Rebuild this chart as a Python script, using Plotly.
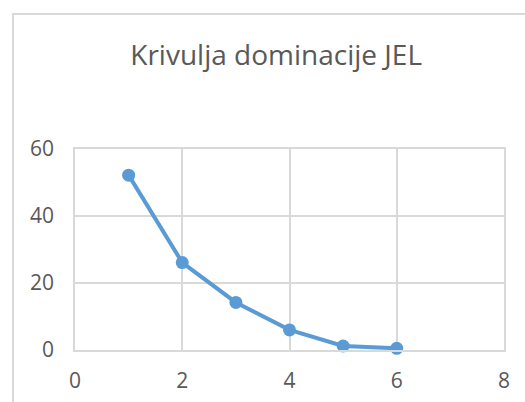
import plotly.graph_objects as go

# Data
rank = [1, 2, 3, 4, 5, 6]
dominance = [52.2, 26.1, 14.2, 6.0, 1.2, 0.5]

x_ticks = [0, 2, 4, 6, 8]
y_ticks = [0, 20, 40, 60]

text_color = '#595959'
grid_color = '#d9d9d9'
line_color = '#5b9bd5'

fig = go.Figure(go.Scatter(
    x=rank,
    y=dominance,
    mode='lines+markers',
    line=dict(color=line_color, width=4),
    marker=dict(color=line_color, size=13),
    showlegend=False,
    cliponaxis=False,
))

axis_style = dict(
    showgrid=True, gridcolor=grid_color, gridwidth=1.5,
    showline=True, linecolor=grid_color, linewidth=1.5, mirror=True,
    zeroline=False, automargin=False,
    ticks='', ticklen=0,
    tickfont=dict(size=21, color=text_color),
)
fig.update_xaxes(range=[0, 8], tickvals=x_ticks, ticklabelstandoff=11, **axis_style)
fig.update_yaxes(range=[0, 60], tickvals=y_ticks, ticklabelstandoff=15, **axis_style)

# Light chart-area border like the spreadsheet frame (runs off the right and bottom)
fig.add_shape(
    type='rect', xref='paper', yref='paper',
    x0=-0.1445, x1=1.2, y0=-0.6, y1=1.672,
    line=dict(color='#d9d9d9', width=2),
    layer='above',
)

fig.update_layout(
    width=525,
    height=402,
    margin=dict(l=75, r=21, t=149, b=52),
    paper_bgcolor='white',
    plot_bgcolor='white',
    font=dict(family='Open Sans, Noto Sans, sans-serif', color=text_color),
    title=dict(
        text='Krivulja dominacije JEL',
        x=0.526, xanchor='center',
        y=1 - 55 / 402, yanchor='middle',
        font=dict(size=28, color=text_color),
        automargin=False,
    ),
)

# remove the default page margin so the figure sits at the window origin
fig.write_html(
    "out.html",
    config={'displayModeBar': False},
    post_script="document.body.style.margin='0';",
)
